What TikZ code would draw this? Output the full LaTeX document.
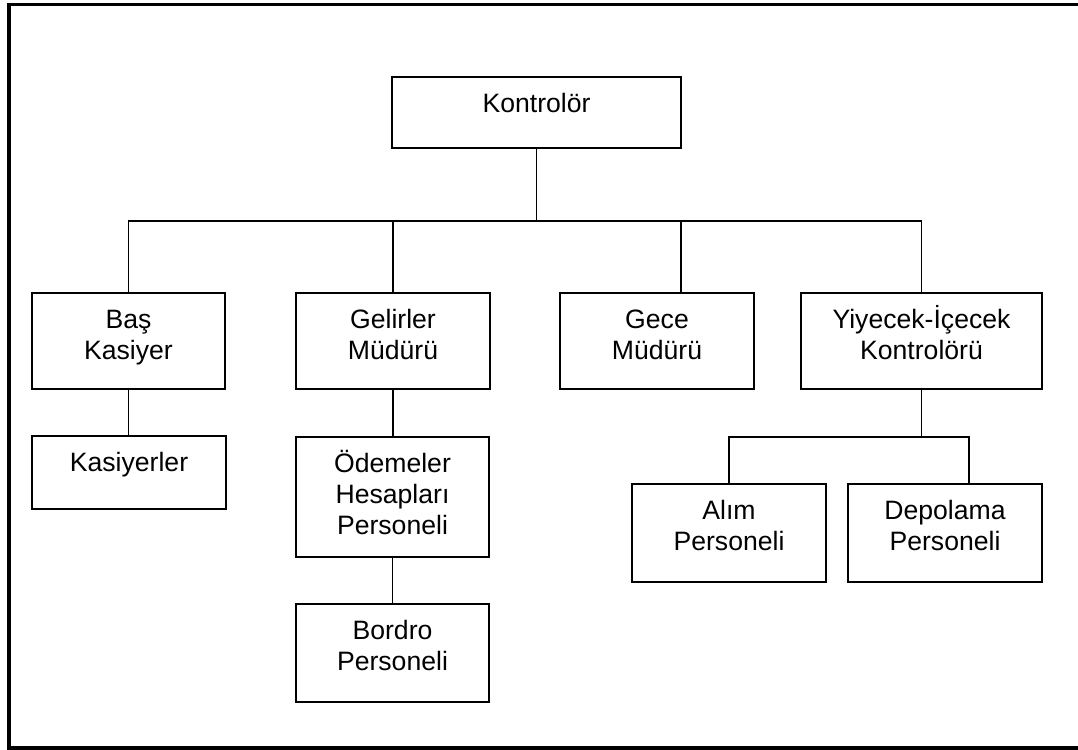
\documentclass[tikz,border=0pt]{standalone}
\usepackage{fontspec}
\setmainfont{Liberation Sans}
\begin{document}
\begin{tikzpicture}[x=1pt,y=-1pt,
  boxn/.style={draw, line width=2pt, rectangle, inner sep=0pt},
  lbl/.style={inner sep=0pt, align=center, anchor=base, font=\fontsize{26.6}{30.6}\selectfont},
  conn/.style={line width=1.7pt}]
\useasboundingbox (0,0) rectangle (1078,749);
% outer frame
\draw[line width=3.6pt] (1100,4.7) -- (8.8,4.7) -- (8.8,747.8) -- (1100,747.8);
% boxes
\node[boxn, minimum width=289pt, minimum height=71pt] (k) at (536.5,112.5) {};
\node[boxn, minimum width=193pt, minimum height=96pt] (bk) at (128.5,341) {};
\node[boxn, minimum width=194pt, minimum height=96pt] (gm) at (393,341) {};
\node[boxn, minimum width=194pt, minimum height=96pt] (gc) at (657,341) {};
\node[boxn, minimum width=241pt, minimum height=96pt] (yk) at (921.5,341) {};
\node[boxn, minimum width=194pt, minimum height=73pt] (ks) at (129,472.5) {};
\node[boxn, minimum width=193pt, minimum height=120pt] (oh) at (392.5,497) {};
\node[boxn, minimum width=193pt, minimum height=98pt] (bp) at (392.5,653) {};
\node[boxn, minimum width=194pt, minimum height=98pt] (ap) at (729,533) {};
\node[boxn, minimum width=194pt, minimum height=98pt] (dp) at (945,533) {};
% labels (base anchor = baseline of last line)
\node[lbl] (k-t) at (536.5,112.5) {Kontrolör};
\node[lbl] (bk-t) at (128.5,359) {Baş\\Kasiyer};
\node[lbl] (gm-t) at (393,359) {Gelirler\\Müdürü};
\node[lbl] (gc-t) at (657,359) {Gece\\Müdürü};
\node[lbl] (yk-t) at (921.5,359) {Yiyecek-İçecek\\Kontrolörü};
\node[lbl] (ks-t) at (129,471.5) {Kasiyerler};
\node[lbl] (oh-t) at (392.5,534) {Ödemeler\\Hesapları\\Personeli};
\node[lbl] (bp-t) at (392.5,670) {Bordro\\Personeli};
\node[lbl] (ap-t) at (729,550) {Alım\\Personeli};
\node[lbl] (dp-t) at (945,550) {Depolama\\Personeli};
% connectors
\coordinate (bus) at (0,221);
\coordinate (gcj) at (681,221);
\coordinate (sub) at (0,437);
\coordinate (dpj) at (969,437);
\draw[conn] (k.south) -- (k.south |- bus);
\draw[conn] (bk.north) |- (yk.north |- bus) -- (yk.north);
\draw[conn] (gm.north) -- (gm.north |- bus);
\draw[conn] (gcj) -- (gcj |- gc.north);
\draw[conn] (bk.south) -- (bk.south |- ks.north);
\draw[conn] (gm.south) -- (gm.south |- oh.north);
\draw[conn] (oh.south) -- (oh.south |- bp.north);
\draw[conn] (yk.south) -- (yk.south |- sub);
\draw[conn] (ap.north) |- (dpj) -- (dpj |- dp.north);
\end{tikzpicture}
\end{document}
